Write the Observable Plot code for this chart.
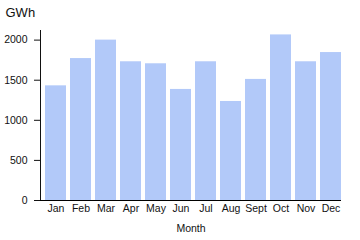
<!DOCTYPE html>
<html>
<head>
<meta charset="utf-8">
<script src="https://cdn.jsdelivr.net/npm/d3@7"></script>
<script src="https://cdn.jsdelivr.net/npm/@observablehq/plot@0.6"></script>
<style>
  html, body { margin: 0; padding: 0; background: #fff; }
  svg { display: block; }
</style>
</head>
<body>
<div id="chart"></div>
<script>
const months = ["Jan","Feb","Mar","Apr","May","Jun","Jul","Aug","Sept","Oct","Nov","Dec"];
const gwh = [1430, 1770, 2000, 1730, 1705, 1385, 1730, 1235, 1510, 2065, 1730, 1845];
const yTicks = [0, 500, 1000, 1500, 2000];

const data = months.map((m, i) => ({month: m, value: gwh[i]}));

const chart = Plot.plot({
  width: 360,
  height: 240,
  marginLeft: 40,
  marginRight: 19,
  marginTop: 30,
  marginBottom: 40,
  style: {fontFamily: "Liberation Sans, Arial, sans-serif", fontSize: "10.5px", color: "#111", background: "#fff"},
  x: {
    domain: months,
    paddingInner: 0.17,
    paddingOuter: 0.1,
    align: 0.95,
    label: "Month",
    labelAnchor: "center",
    tickSize: 0,
    tickPadding: 4,
    labelOffset: 31
  },
  y: {
    domain: [0, 2120],
    ticks: yTicks,
    tickSize: 6,
    tickPadding: 7,
    tickFormat: d => String(d),
    label: null,
    line: true
  },
  marks: [
    Plot.barY(data, {x: "month", y: "value", fill: "#b2c9f9"}),
    Plot.ruleY([0], {stroke: "#000"}),
    Plot.text(["GWh"], {frameAnchor: "top-left", dx: -35, dy: -23, textAnchor: "start", lineAnchor: "top", fontSize: 13, fill: "#111"})
  ]
});
document.getElementById("chart").appendChild(chart);
</script>
</body>
</html>
